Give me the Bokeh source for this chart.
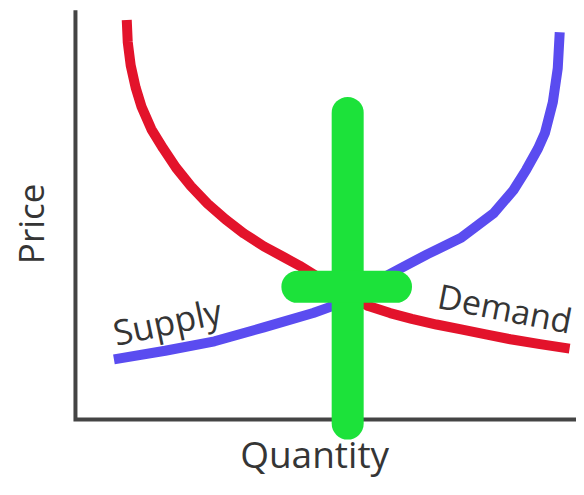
import math
from bokeh.plotting import figure
from bokeh.models import Range1d
from bokeh.core.properties import value
from bokeh.embed import file_html
from bokeh.resources import INLINE

# ---- data (quantity 0-100, price 0-100) ----
demand_q = [10.4, 10.6, 11.2, 12.2, 13.4, 15.4, 17.8, 20.4, 23.4, 26.8,
            30.4, 34.2, 38.2, 42.2, 45.4, 50.8, 55.8, 59.4, 63.8, 68.2,
            73.2, 78.2, 83.2, 88.2, 94.2, 100.2]
demand_p = [97.6, 92.2, 86.5, 81.1, 76.4, 70.9, 66.2, 61.5, 57.0, 52.7,
            48.9, 45.4, 42.3, 39.7, 37.6, 33.6, 30.3, 27.7, 26.0, 24.6,
            23.2, 22.0, 20.8, 19.6, 18.4, 17.3]

supply_q = [7.8, 18.2, 28.2, 38.2, 48.2, 51.4, 55.8, 60.8, 66.2, 71.4,
            78.2, 84.8, 88.8, 91.4, 93.8, 95.2, 96.8, 97.8, 98.2]
supply_p = [14.7, 16.8, 19.1, 22.5, 26.0, 27.4, 30.3, 33.6, 37.1, 40.4,
            44.4, 50.4, 56.0, 61.0, 66.2, 70.0, 77.5, 85.8, 94.6]

# equilibrium marker (green cross)
eq_q = 55.2
eq_p = 32.4
cross_q_span = [45.0, 65.0]
cross_p_span = [-1.0, 74.9]

# axis extents
axis_q_max = 102.0
axis_p_max = 100.0

labels_axis = ["Quantity", "Price"]
labels_curve = ["Supply", "Demand"]

FONT = value("Open Sans")
TEXT_COLOR = "#353535"

p = figure(width=576, height=479, output_backend="svg", toolbar_location=None,
           x_range=Range1d(-15.2, 101.6), y_range=Range1d(-14.66, 102.36),
           min_border=0, x_axis_location=None, y_axis_location=None)
p.xgrid.visible = False
p.ygrid.visible = False
p.outline_line_color = None
p.background_fill_color = "white"
p.border_fill_color = "white"

# axes as an L shape
p.line([0, 0, axis_q_max], [axis_p_max, 0, 0], line_width=4, line_color="#444444",
       line_join="miter")

# curves
p.line(demand_q, demand_p, line_width=10, line_color="#E3132B",
       line_cap="butt", line_join="round")
p.line(supply_q, supply_p, line_width=10, line_color="#5A4CF0",
       line_cap="butt", line_join="round")

# green cross at equilibrium
p.segment(x0=[eq_q, cross_q_span[0]], y0=[cross_p_span[0], eq_p],
          x1=[eq_q, cross_q_span[1]], y1=[cross_p_span[1], eq_p],
          line_width=32, line_color="#1CE23A", line_cap="round")

# axis labels
p.text(x=[48.5], y=[-8.2], text=[labels_axis[0]], text_font=FONT,
       text_font_size="37px", text_color=TEXT_COLOR, text_align="center",
       text_baseline="middle")
p.text(x=[-9.1], y=[47.8], text=[labels_axis[1]], text_font=FONT,
       text_font_size="35px", text_color=TEXT_COLOR, text_align="center",
       text_baseline="middle", angle=math.pi / 2)

# curve labels
p.text(x=[7.7], y=[21.2], text=[labels_curve[0]], text_font=FONT,
       text_font_size="35px", text_color=TEXT_COLOR, text_align="left",
       text_baseline="middle", angle=math.radians(12))
p.text(x=[73.6], y=[30.4], text=[labels_curve[1]], text_font=FONT,
       text_font_size="34px", text_color=TEXT_COLOR, text_align="left",
       text_baseline="middle", angle=math.radians(-11))

open("out.html", "w").write(file_html(p, INLINE))
